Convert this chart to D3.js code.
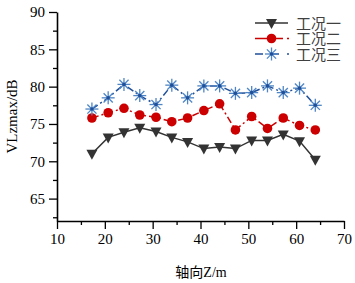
<!DOCTYPE html>
<html>
<head>
<meta charset="utf-8">
<script src="https://cdn.jsdelivr.net/npm/d3@7"></script>
<style>
  body { margin: 0; background: #fff; }
  svg { display: block; }
  text { font-family: "Liberation Serif", "Noto Sans CJK SC", serif; }
</style>
</head>
<body>
<div id="chart"></div>
<script>
let width = 355,
    height = 283,
    margin = ({ top: 12, right: 11, bottom: 62, left: 57 });

// data
const positions = [17.3, 20.7, 24, 27.3, 30.7, 34, 37.3, 40.7, 44, 47.3, 50.7, 54, 57.3, 60.7, 64];
const case1 = [71.0, 73.2, 73.9, 74.5, 74.0, 73.2, 72.6, 71.7, 71.9, 71.7, 72.8, 72.8, 73.6, 72.7, 70.2];
const case2 = [75.8, 76.5, 77.1, 76.2, 75.9, 75.3, 75.8, 76.8, 77.7, 74.2, 76.0, 74.4, 75.8, 74.8, 74.2];
const case3 = [77.0, 78.5, 80.3, 78.8, 77.6, 80.2, 78.5, 80.1, 80.1, 79.1, 79.2, 80.1, 79.2, 79.8, 77.5];
const seriesNames = ["工况一", "工况二", "工况三"];
const xTicks = [10, 20, 30, 40, 50, 60, 70];
const yTicks = [65, 70, 75, 80, 85, 90];

const svg = d3.select("#chart")
  .append("svg")
  .attr("width", width)
  .attr("height", height);

let x = d3.scaleLinear()
  .domain([10, 70])
  .range([margin.left, 344]);

let y = d3.scaleLinear()
  .domain([62, 90])
  .range([height - margin.bottom, margin.top]);

// minor ticks first, then major ticks with labels
svg.append("g")
  .attr("transform", `translate(0,${height - margin.bottom})`)
  .call(d3.axisBottom(x).tickValues(d3.range(15, 70, 10)).tickSize(4).tickFormat(""))
  .call(g => g.select(".domain").remove())
  .call(g => g.selectAll("line").attr("stroke-width", 1.3));

svg.append("g")
  .attr("transform", `translate(0,${height - margin.bottom})`)
  .call(d3.axisBottom(x).tickValues(xTicks).tickSize(8).tickPadding(4).tickSizeOuter(0))
  .call(g => g.select(".domain").attr("stroke-width", 1.6))
  .call(g => g.selectAll("line").attr("stroke-width", 1.3))
  .call(g => g.selectAll("text").attr("font-size", 15).attr("fill", "#000")
    .attr("font-family", "Liberation Serif"));

svg.append("g")
  .attr("transform", `translate(${margin.left},0)`)
  .call(d3.axisLeft(y).tickValues(d3.range(62.5, 90, 5)).tickSize(4).tickFormat(""))
  .call(g => g.select(".domain").remove())
  .call(g => g.selectAll("line").attr("stroke-width", 1.3));

svg.append("g")
  .attr("transform", `translate(${margin.left},0)`)
  .call(d3.axisLeft(y).tickValues(yTicks).tickSize(8).tickPadding(4).tickSizeOuter(0))
  .call(g => g.select(".domain").attr("stroke-width", 1.6))
  .call(g => g.selectAll("line").attr("stroke-width", 1.3))
  .call(g => g.selectAll("text").attr("font-size", 15).attr("fill", "#000")
    .attr("font-family", "Liberation Serif"));

// axis titles
svg.append("text")
  .attr("x", 201)
  .attr("y", 277)
  .attr("text-anchor", "middle")
  .attr("font-size", 14)
  .text("轴向Z/m");

svg.append("text")
  .attr("transform", `translate(17,${y(76)}) rotate(-90)`)
  .attr("text-anchor", "middle")
  .attr("font-size", 15)
  .text("VLzmax/dB");

const styles = [
  { data: case1, color: "#333333", dash: null, marker: "tri" },
  { data: case2, color: "#cc0000", dash: "7,3,2,3", marker: "circle" },
  { data: case3, color: "#1f4f99", dash: "7,3,2,3", marker: "star" }
];

let line = d3.line()
  .x(d => x(d[0]))
  .y(d => y(d[1]));

function drawMarker(g, type, color) {
  if (type === "tri") {
    g.append("path")
      .attr("d", "M-5.5,-4 L5.5,-4 L0,6 Z")
      .attr("fill", color);
  } else if (type === "circle") {
    g.append("circle").attr("r", 4.8).attr("fill", color);
  } else {
    for (let a = 0; a < 180; a += 45) {
      g.append("line")
        .attr("x1", -6.5).attr("x2", 6.5)
        .attr("transform", `rotate(${a})`)
        .attr("stroke", "#4f86c6")
        .attr("stroke-width", 1.3);
    }
    g.append("circle").attr("r", 1.8).attr("fill", color);
  }
}

styles.forEach(s => {
  let pts = positions.map((p, i) => [p, s.data[i]]);
  svg.append("path")
    .datum(pts)
    .attr("fill", "none")
    .attr("stroke", s.color)
    .attr("stroke-width", 1.5)
    .attr("stroke-dasharray", s.dash)
    .attr("d", line);

  svg.append("g")
    .selectAll("g")
    .data(pts)
    .join("g")
    .attr("transform", d => `translate(${x(d[0])},${y(d[1])})`)
    .each(function () { drawMarker(d3.select(this), s.marker, s.color); });
});

// legend
const legend = svg.append("g");
styles.forEach((s, i) => {
  let ly = 23 + i * 15.5;
  legend.append("line")
    .attr("x1", 255).attr("x2", s.dash ? 283 : 288)
    .attr("y1", ly).attr("y2", ly)
    .attr("stroke", s.color)
    .attr("stroke-width", 1.5)
    .attr("stroke-dasharray", s.dash ? (i === 1 ? "28" : "8,8,8") : null);
  if (s.dash) {
    legend.append("line")
      .attr("x1", 287).attr("x2", 289)
      .attr("y1", ly).attr("y2", ly)
      .attr("stroke", s.color)
      .attr("stroke-width", 1.5);
  }
  let m = legend.append("g").attr("transform", `translate(271.5,${ly})`);
  drawMarker(m, s.marker, s.color);
  legend.append("text")
    .attr("x", 296)
    .attr("y", ly + 5.5)
    .attr("font-size", 15)
    .attr("fill", "#404040")
    .text(seriesNames[i]);
});
</script>
</body>
</html>
